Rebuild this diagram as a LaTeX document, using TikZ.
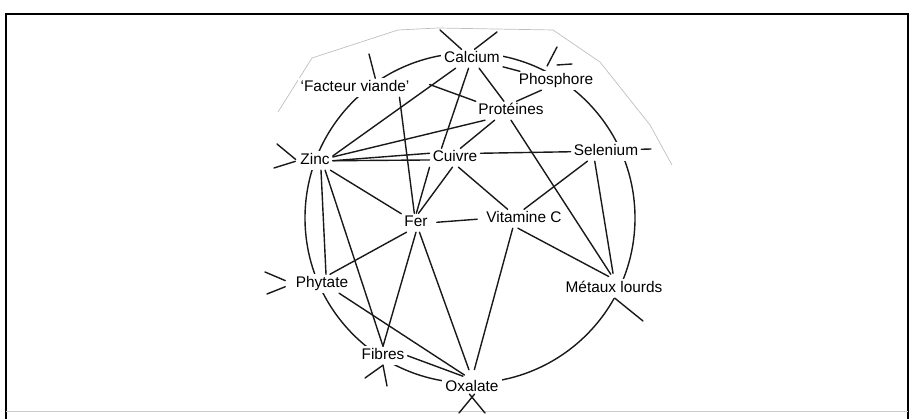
\documentclass[tikz,border=0pt]{standalone}
\usepackage{fontspec}
\setmainfont{Liberation Sans}
\usepackage{tikz}

\begin{document}
\begin{tikzpicture}[x=1pt,y=-1pt,
    lbl/.style={anchor=base,fill=white,inner xsep=3pt,inner ysep=2pt,
        text height=11.5pt,text depth=3pt,font=\fontsize{15.4}{17}\selectfont},
    lnk/.style={line width=1.4pt,black!90,line cap=round}]
    \useasboundingbox (0,0) rectangle (914,419);
    % frame and paper edge
    \draw[line width=2.6pt] (6,419) -- (6,14) -- (908,14) -- (908,419);
    \draw[black!20,line width=1pt] (6,412) -- (908,412);
    \draw[black!25,line width=0.7pt] (278,112) -- (312,58) -- (398,30) -- (438,28)
        -- (553,30) -- (600,62) -- (650,125) -- (672,165);
    % the ring
    \coordinate (ctr) at (470,218);
    \draw[lnk] (ctr) circle[radius=165pt];
    % labels
    \node[lbl] (calcium) at (472,63) {Calcium};
    \node[lbl] (phosphore) at (556,85) {Phosphore};
    \node[lbl] (facteur) at (355,92) {`Facteur viande'};
    \node[lbl] (proteines) at (511,115) {Protéines};
    \node[lbl] (zinc) at (315,165) {Zinc};
    \node[lbl] (cuivre) at (455,162) {Cuivre};
    \node[lbl] (selenium) at (606,156) {Selenium};
    \node[lbl] (fer) at (416,227) {Fer};
    \node[lbl] (vitc) at (524,223) {Vitamine C};
    \node[lbl] (phytate) at (322,288) {Phytate};
    \node[lbl] (metaux) at (614,293) {Métaux lourds};
    \node[lbl] (fibres) at (383,360) {Fibres};
    \node[lbl] (oxalate) at (472,392) {Oxalate};
    % links
    \draw[lnk] (calcium) -- (phosphore);
    \draw[lnk] (calcium) -- (proteines);
    \draw[lnk] (calcium.210) -- (zinc.15);
    \draw[lnk] (calcium.250) -- (cuivre.145);
    \draw[lnk] (cuivre.south west) -- (fer.88);
    \draw[lnk] (cuivre.255) -- (fer.75);
    \draw[lnk,shorten <=18pt] (facteur.north east) -- (proteines.165);
    \draw[lnk] (facteur.-12) -- (fer.100);
    \draw[lnk] (proteines.60) -- (phosphore.213);
    \draw[lnk] (zinc.12) -- (proteines.200);
    \draw[lnk] (zinc.east) -- (cuivre.170);
    \draw[lnk] (zinc.east) -- (cuivre.185);
    \draw[lnk] (zinc) -- (fer);
    \draw[lnk] ([xshift=6pt]zinc.south) -- ([xshift=4pt]phytate.north);
    \draw[lnk] (zinc.-43) -- (fibres.north);
    \draw[lnk] (fer.south) -- (fibres.north);
    \draw[lnk] (fer.225) -- (phytate.50);
    \draw[lnk,shorten >=9pt] (fer.-70) -- (oxalate.north);
    \draw[lnk,shorten >=9pt] (vitc.220) -- (oxalate.north);
    \draw[lnk,shorten <=6pt,shorten >=6pt] (fer.east) -- (vitc.west);
    \draw[lnk] (cuivre.-70) -- (vitc.150);
    \draw[lnk] (cuivre.60) -- (proteines.210);
    \draw[lnk] (cuivre.10) -- (selenium.west);
    \draw[lnk] (selenium.207) -- (vitc.north);
    \draw[lnk,shorten >=6pt] (selenium.220) -- (metaux.north);
    \draw[lnk,shorten >=6pt] (proteines.south) -- (metaux.north);
    \draw[lnk,shorten >=6pt] (vitc.237) -- (metaux.north);
    \draw[lnk,shorten >=6pt] (phytate.-29) -- (oxalate.105);
    \draw[lnk,shorten >=6pt] (fibres.east) -- (oxalate.110);
    % loose ends
    \coordinate (calA) at (440,30);
    \coordinate (calB) at (497,32);
    \coordinate (phoA) at (557,47);
    \coordinate (phoB) at (557,65);
    \coordinate (phoC) at (572,64);
    \coordinate (selA) at (651,149);
    \coordinate (metA) at (643,321);
    \coordinate (oxA) at (459,413);
    \coordinate (oxB) at (485,413);
    \coordinate (fibA) at (365,378);
    \coordinate (fibB) at (387,386);
    \coordinate (phyA) at (265,272);
    \coordinate (phyB) at (267,294);
    \coordinate (zinA) at (277,144);
    \coordinate (zinB) at (274,168);
    \coordinate (facA) at (369,54);
    \draw[lnk] (calcium.138) -- (calA);
    \draw[lnk] (calcium.75) -- (calB);
    \draw[lnk,shorten <=6pt] (phosphore.141) -- (phoA);
    \draw[lnk] (phoB) -- (phoC);
    \draw[lnk] (selenium.4) -- (selA);
    \draw[lnk] (metaux.-85) -- (metA);
    \draw[lnk,shorten <=-4pt] (oxalate.south) -- (oxA);
    \draw[lnk,shorten <=-4pt] (oxalate.south) -- (oxB);
    \draw[lnk] (fibres.south) -- (fibA);
    \draw[lnk] (fibres.south) -- (fibB);
    \draw[lnk,shorten <=8pt] (phytate.west) -- (phyA);
    \draw[lnk,shorten <=8pt] (phytate.west) -- (phyB);
    \draw[lnk,shorten <=2pt] (zinc.west) -- (zinA);
    \draw[lnk,shorten <=2pt] (zinc.west) -- (zinB);
    \draw[lnk] (facteur.25) -- (facA);
\end{tikzpicture}
\end{document}
